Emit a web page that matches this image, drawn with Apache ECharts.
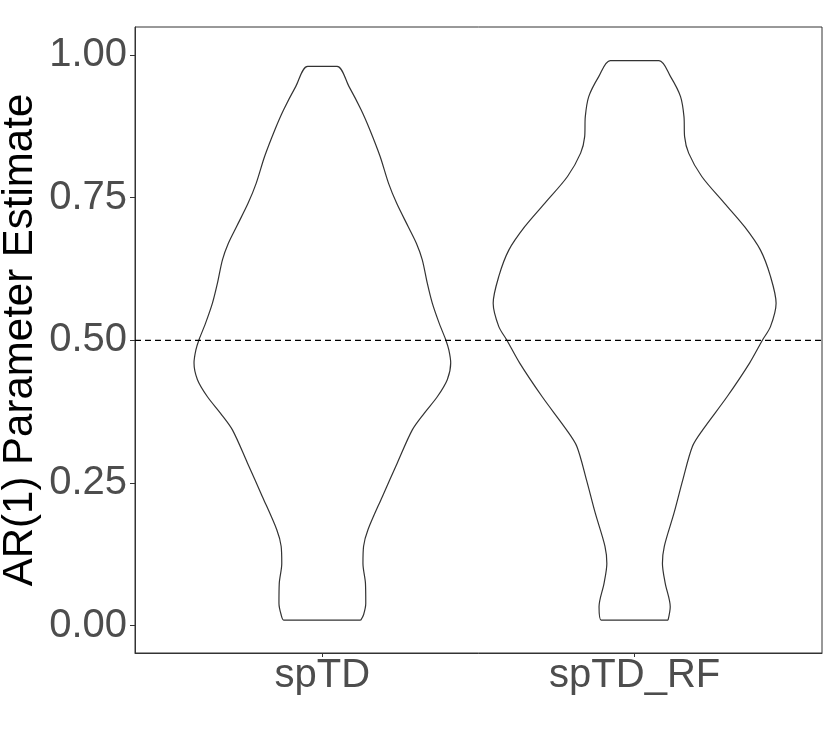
<!DOCTYPE html>
<html>
<head>
<meta charset="utf-8">
<title>AR(1) Parameter Estimate</title>
<script src="https://cdn.jsdelivr.net/npm/echarts@6/dist/echarts.min.js"></script>
<style>
  html, body { margin: 0; padding: 0; background: #fff; }
  #main { width: 830px; height: 747px; }
</style>
</head>
<body>
<div id="main"></div>
<script>
// categories on the x axis (positions 1 and 2)
const categories = ["spTD", "spTD_RF"];
const yTicks = [0, 0.25, 0.5, 0.75, 1];
const refLine = 0.5;

// violin outline: y value and half width (in category units)
const tdY = [0.0095, 0.019, 0.039, 0.074, 0.109, 0.139, 0.168, 0.226, 0.285, 0.343, 0.372, 0.401, 0.431, 0.46, 0.483, 0.501, 0.53, 0.565, 0.6, 0.641, 0.67, 0.699, 0.74, 0.775, 0.822, 0.869, 0.904, 0.945, 0.98];
const tdHalf = [0.123, 0.132, 0.139, 0.138, 0.13, 0.132, 0.146, 0.192, 0.24, 0.288, 0.326, 0.368, 0.4, 0.411, 0.405, 0.395, 0.374, 0.352, 0.336, 0.32, 0.301, 0.275, 0.238, 0.212, 0.185, 0.152, 0.124, 0.085, 0.047];

const rfY = [0.0095, 0.033, 0.074, 0.109, 0.139, 0.197, 0.255, 0.314, 0.343, 0.401, 0.46, 0.501, 0.524, 0.565, 0.612, 0.658, 0.699, 0.74, 0.787, 0.828, 0.857, 0.892, 0.927, 0.962, 0.99];
const rfHalf = [0.107, 0.114, 0.098, 0.089, 0.095, 0.126, 0.154, 0.185, 0.218, 0.296, 0.368, 0.41, 0.435, 0.453, 0.435, 0.403, 0.352, 0.288, 0.215, 0.173, 0.16, 0.158, 0.147, 0.115, 0.078];

// closed outline: right side going up, left side coming down
function outline(center, ys, half) {
  const pts = [];
  for (let i = 0; i < ys.length; i++) pts.push([center + half[i], ys[i]]);
  for (let i = ys.length - 1; i >= 0; i--) pts.push([center - half[i], ys[i]]);
  pts.push(pts[0]);
  return pts;
}

const FONT = "Liberation Sans, Arial, Helvetica, sans-serif";
const chart = echarts.init(document.getElementById("main"));

const violinStyle = {
  type: "line",
  showSymbol: false,
  smooth: 0.3,
  silent: true,
  animation: false,
  lineStyle: { color: "#333333", width: 1.2 }
};

chart.setOption({
  backgroundColor: "#ffffff",
  grid: {
    left: 135,
    right: 8,
    top: 27,
    bottom: 94,
    show: true,
    borderColor: "#333333",
    borderWidth: 1
  },
  xAxis: {
    type: "value",
    min: 0.4,
    max: 2.6,
    splitLine: { show: false },
    axisLine: { onZero: false, lineStyle: { color: "#333333", width: 1 } },
    axisTick: { customValues: [1, 2], length: 4, lineStyle: { color: "#333333" } },
    axisLabel: {
      customValues: [1, 2],
      formatter: v => categories[Math.round(v) - 1],
      fontFamily: FONT,
      fontSize: 40,
      color: "#4d4d4d",
      margin: 3
    }
  },
  yAxis: {
    type: "value",
    min: -0.048,
    max: 1.049,
    splitLine: { show: false },
    axisLine: { show: true, onZero: false, lineStyle: { color: "#333333", width: 1 } },
    axisTick: { show: true, customValues: yTicks, length: 5, lineStyle: { color: "#333333" } },
    axisLabel: {
      customValues: yTicks,
      formatter: v => v.toFixed(2),
      fontFamily: FONT,
      fontSize: 40,
      color: "#4d4d4d",
      margin: 8
    }
  },
  graphic: [
    {
      type: "text",
      x: 20,
      y: 340,
      rotation: Math.PI / 2,
      style: {
        text: "AR(1) Parameter Estimate",
        font: "42px " + FONT,
        fill: "#000000",
        align: "center",
        verticalAlign: "middle"
      }
    }
  ],
  series: [
    Object.assign({ name: categories[0], data: outline(1, tdY, tdHalf) }, violinStyle),
    Object.assign({ name: categories[1], data: outline(2, rfY, rfHalf) }, violinStyle),
    {
      type: "line",
      showSymbol: false,
      silent: true,
      animation: false,
      data: [[0.4, refLine], [2.6, refLine]],
      lineStyle: { color: "#000000", width: 1.2, type: [6, 4] }
    }
  ]
});
</script>
</body>
</html>
